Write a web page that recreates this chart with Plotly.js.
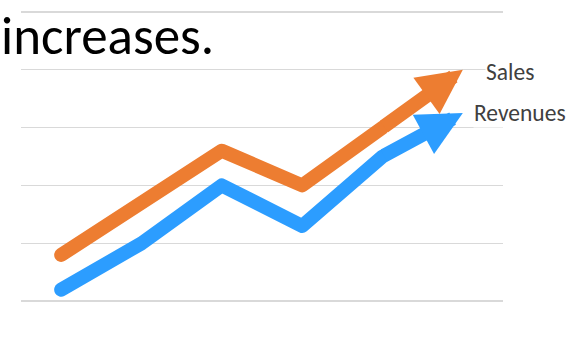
<!DOCTYPE html>
<html>
<head>
<meta charset="utf-8">
<script src="https://cdn.plot.ly/plotly-3.0.1.min.js"></script>
<style>
  html, body { margin: 0; padding: 0; background: #fff; }
  #chart { width: 583px; height: 357px; }
  .scatterlayer .js-line { stroke-linecap: round; stroke-linejoin: round; }
</style>
</head>
<body>
<div id="chart"></div>
<script>
const categories = ['P1', 'P2', 'P3', 'P4', 'P5', 'P6'];
const sales = [0.8, 1.7, 2.6, 2.0, 3.0, 4.0];
const revenues = [0.2, 1.0, 2.0, 1.3, 2.5, 3.25];
const seriesNames = ['Sales', 'Revenues'];
const headline = 'increases.';

const orange = '#ED7D31';
const blue = '#2C9DFF';
const lineW = 14;
const last = categories.length - 1;

function lineTrace(vals, color) {
  return {
    type: 'scatter', mode: 'lines',
    x: categories.slice(0, last), y: vals.slice(0, last),
    line: { color: color, width: lineW },
    hoverinfo: 'skip', showlegend: false, cliponaxis: false
  };
}
function arrowAnn(vals, color) {
  return {
    xref: 'x', yref: 'y', axref: 'x', ayref: 'y',
    x: categories[last], y: vals[last],
    ax: categories[last - 1], ay: vals[last - 1],
    text: '', showarrow: true, arrowhead: 2, arrowsize: 0.64,
    arrowwidth: lineW, arrowcolor: color, font: { size: 1 }
  };
}
function labelAnn(vals, name, xs, ys) {
  return {
    xref: 'x', yref: 'y', x: categories[last], y: vals[last],
    text: name, showarrow: false, xanchor: 'left', yanchor: 'middle',
    xshift: xs, yshift: ys, bgcolor: '#ffffff', borderpad: 0,
    font: { family: 'Carlito, Calibri, Lato, sans-serif', size: 23.5, color: '#404040' }
  };
}

const data = [lineTrace(revenues, blue), lineTrace(sales, orange)];

const layout = {
  width: 583, height: 357,
  margin: { l: 21, r: 80, t: 6, b: 50 },
  paper_bgcolor: '#fff', plot_bgcolor: '#fff',
  showlegend: false,
  xaxis: {
    type: 'category', categoryorder: 'array', categoryarray: categories,
    range: [-0.5, 5.5], showgrid: false, zeroline: false,
    showticklabels: false, ticks: '', showline: false, fixedrange: true
  },
  yaxis: {
    range: [-0.1, 5.1], dtick: 1, tick0: 0, showgrid: true, gridcolor: '#d9d9d9',
    gridwidth: 1.5, zeroline: false, showticklabels: false, ticks: '', showline: false,
    fixedrange: true
  },
  annotations: [
    arrowAnn(revenues, blue),
    arrowAnn(sales, orange),
    labelAnn(sales, seriesNames[0], 22, -2),
    labelAnn(revenues, seriesNames[1], 10, 0),
    {
      xref: 'paper', yref: 'paper', x: -0.046, y: 0.9,
      xanchor: 'left', yanchor: 'middle', showarrow: false,
      text: headline,
      font: { family: 'Carlito, Calibri, Lato, sans-serif', size: 53, color: '#000' }
    }
  ]
};

Plotly.newPlot('chart', data, layout, { displayModeBar: false, staticPlot: true });
</script>
</body>
</html>
